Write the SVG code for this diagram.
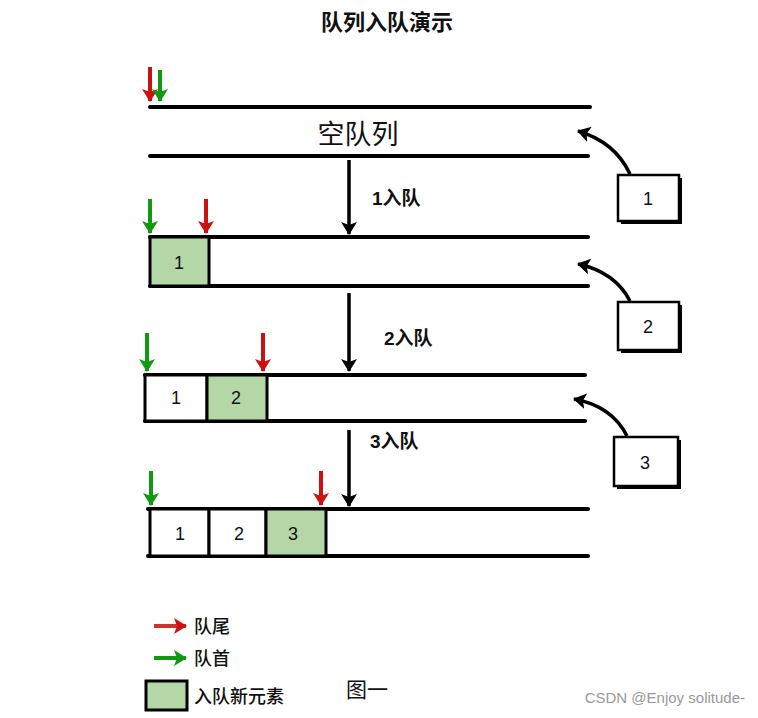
<svg xmlns="http://www.w3.org/2000/svg" width="758" height="718" viewBox="0 0 758 718">
<defs>
<style>
.q{stroke:#000;stroke-width:4;stroke-linecap:round;fill:none}
.box{stroke:#000;stroke-width:3;fill:#fff}
.new{stroke:#000;stroke-width:3;fill:#b5d6a7}
.num{font-family:"Liberation Sans",Arial,sans-serif;font-size:18px;fill:#111;text-anchor:middle}
.lbl{font-family:"Liberation Sans","Noto Sans CJK SC",sans-serif;font-size:19px;font-weight:bold;fill:#111}
.cn{font-family:"Noto Sans CJK SC",sans-serif;fill:#111}
.r{stroke:#cc1111;stroke-width:4;fill:none;marker-end:url(#mr)}
.g{stroke:#119911;stroke-width:4;fill:none;marker-end:url(#mg)}
.k{stroke:#000;stroke-width:3.5;fill:none;marker-end:url(#mk)}
</style>
<marker id="mr" viewBox="0 0 13 16" markerWidth="13" markerHeight="16" refX="12" refY="8" orient="auto" markerUnits="userSpaceOnUse"><path d="M0,0 L13,8 L0,16 L3,8 z" fill="#cc1111"/></marker>
<marker id="mg" viewBox="0 0 13 16" markerWidth="13" markerHeight="16" refX="12" refY="8" orient="auto" markerUnits="userSpaceOnUse"><path d="M0,0 L13,8 L0,16 L3,8 z" fill="#119911"/></marker>
<marker id="mk" viewBox="0 0 13 16" markerWidth="13" markerHeight="16" refX="12" refY="8" orient="auto" markerUnits="userSpaceOnUse"><path d="M0,0 L13,8 L0,16 L3,8 z" fill="#000"/></marker>
</defs>
<rect width="758" height="718" fill="#fff"/>
<text x="387" y="30" text-anchor="middle" class="cn" font-size="22" font-weight="bold">队列入队演示</text>

<g id="queue0">
<line class="q" x1="150" y1="107" x2="590" y2="107"/>
<line class="q" x1="150" y1="156" x2="588" y2="156"/>
<text x="358" y="144" text-anchor="middle" class="cn" font-size="27">空队列</text>
</g>

<g id="queue1">
<line class="q" x1="150" y1="237" x2="588" y2="237"/>
<line class="q" x1="150" y1="286" x2="588" y2="286"/>
<rect class="new" x="150" y="237" width="59" height="49"/>
<text class="num" x="179" y="269">1</text>
</g>

<g id="queue2">
<line class="q" x1="145" y1="375" x2="585" y2="375"/>
<line class="q" x1="145" y1="421" x2="585" y2="421"/>
<rect class="box" x="145" y="375" width="62" height="46"/>
<rect class="new" x="207" y="375" width="60" height="46"/>
<text class="num" x="176" y="404">1</text>
<text class="num" x="236" y="404">2</text>
</g>

<g id="queue3">
<line class="q" x1="148" y1="509" x2="588" y2="509"/>
<line class="q" x1="148" y1="556" x2="588" y2="556"/>
<rect class="box" x="150" y="509" width="59" height="47"/>
<rect class="box" x="209" y="509" width="57" height="47"/>
<rect class="new" x="266" y="509" width="60" height="47"/>
<text class="num" x="180" y="540">1</text>
<text class="num" x="239" y="540">2</text>
<text class="num" x="293" y="540">3</text>
</g>

<g id="item1">
<rect x="621" y="178" width="61" height="46" fill="#000"/>
<rect x="618" y="175" width="61" height="46" fill="#fff" stroke="#000" stroke-width="2.5"/>
<text class="num" x="648" y="205">1</text>
</g>
<g id="item2">
<rect x="621" y="305" width="61" height="48" fill="#000"/>
<rect x="618" y="302" width="61" height="48" fill="#fff" stroke="#000" stroke-width="2.5"/>
<text class="num" x="648" y="333">2</text>
</g>
<g id="item3">
<rect x="617" y="440" width="64" height="49" fill="#000"/>
<rect x="614" y="437" width="64" height="49" fill="#fff" stroke="#000" stroke-width="2.5"/>
<text class="num" x="645" y="469">3</text>
</g>

<g id="connectors">
<path class="r" d="M150,67 L150,101"/>
<path class="g" d="M160,70 L160,101"/>
<path class="g" d="M150,199 L150,233"/>
<path class="r" d="M206,199 L206,233"/>
<path class="k" d="M349,160 L349,234"/>
<path class="g" d="M147,333 L147,371"/>
<path class="r" d="M263,333 L263,371"/>
<path class="k" d="M349,293 L349,371"/>
<path class="g" d="M151,471 L151,505"/>
<path class="r" d="M321,471 L321,505"/>
<path class="k" d="M349,430 L349,506"/>
<path class="k" d="M630,174 Q615,142 578,131"/>
<path class="k" d="M630,301 Q615,272 578,264"/>
<path class="k" d="M627,436 Q612,406 574,399"/>
</g>
<text class="lbl" x="372" y="205">1入队</text>
<text class="lbl" x="384" y="345">2入队</text>
<text class="lbl" x="370" y="448">3入队</text>

<g id="legend">
<path d="M154,626 L186,626" stroke="#d03030" stroke-width="4" marker-end="url(#mr)"/>
<text x="194" y="633" class="cn" font-size="18" font-weight="500">队尾</text>
<path d="M154,658 L186,658" stroke="#119911" stroke-width="4" marker-end="url(#mg)"/>
<text x="194" y="665" class="cn" font-size="18" font-weight="500">队首</text>
<rect x="146" y="681" width="41" height="29" fill="#b5d6a7" stroke="#000" stroke-width="3"/>
<text x="194" y="703" class="cn" font-size="18" font-weight="500">入队新元素</text>
<text x="346" y="697" class="cn" font-size="21">图一</text>
</g>
<text x="745" y="703" text-anchor="end" font-family="Liberation Sans,Arial,sans-serif" font-size="15" fill="#999">CSDN @Enjoy solitude-</text>
</svg>
